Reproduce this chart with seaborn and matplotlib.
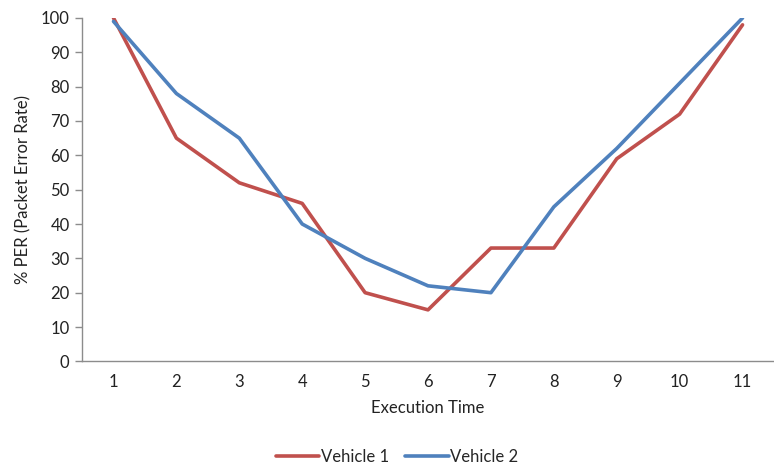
import numpy as np
import matplotlib.pyplot as plt
import seaborn as sns
import pandas as pd

# values
execution_time = [1, 2, 3, 4, 5, 6, 7, 8, 9, 10, 11]
vehicle_1 = [100, 65, 52, 46, 20, 15, 33, 33, 59, 72, 98]
vehicle_2 = [99, 78, 65, 40, 30, 22, 20, 45, 62, 81, 100]
series_names = ['Vehicle 1', 'Vehicle 2']
y_ticks = [0, 10, 20, 30, 40, 50, 60, 70, 80, 90, 100]

df = pd.DataFrame({
    'Execution Time': execution_time * 2,
    'PER': vehicle_1 + vehicle_2,
    'Series': [series_names[0]] * len(vehicle_1) + [series_names[1]] * len(vehicle_2),
})

sns.set_style('white')
plt.rcParams['font.family'] = ['Lato', 'DejaVu Sans']

fig = plt.figure(figsize=(7.74, 4.73), dpi=100)
ax = fig.add_axes([0.106, 0.236, 0.894, 0.726])

sns.lineplot(data=df, x='Execution Time', y='PER', hue='Series',
             palette=['#C0504D', '#4F81BD'], linewidth=2.6, ax=ax,
             legend=False)

# Excel-style category axis: ticks between categories, cut at the right
ax.set_xlim(0.5, 11.33)
ax.set_ylim(0, 100)
ax.set_xticks(execution_time)
ax.set_xticks(np.arange(0.5, 11.6, 1), minor=True)
ax.set_yticks(y_ticks)
ax.tick_params(axis='x', which='major', length=0, labelsize=12, pad=9,
               colors='#222222')
ax.tick_params(axis='x', which='minor', length=5, color='#8c8c8c', width=1)
ax.tick_params(axis='y', length=5, color='#8c8c8c', width=1, labelsize=12,
               left=True, pad=4)
ax.tick_params(axis='y', labelcolor='#222222')

for side in ['top', 'right']:
    ax.spines[side].set_visible(False)
for side in ['left', 'bottom']:
    ax.spines[side].set_color('#8c8c8c')
    ax.spines[side].set_linewidth(1)

ax.set_xlabel('Execution Time', fontsize=12, color='#222222', labelpad=7)
ax.set_ylabel('% PER (Packet Error Rate)', fontsize=12, color='#222222',
              labelpad=7)

handles = [plt.Line2D([], [], color=c, linewidth=2.6)
           for c in ['#C0504D', '#4F81BD']]
fig.legend(handles, series_names, loc='lower center', ncol=2, frameon=False,
           bbox_to_anchor=(0.513, -0.015), fontsize=12, handlelength=2.6,
           handletextpad=0.1, columnspacing=1.0)

fig.savefig('out.png', dpi=100)
